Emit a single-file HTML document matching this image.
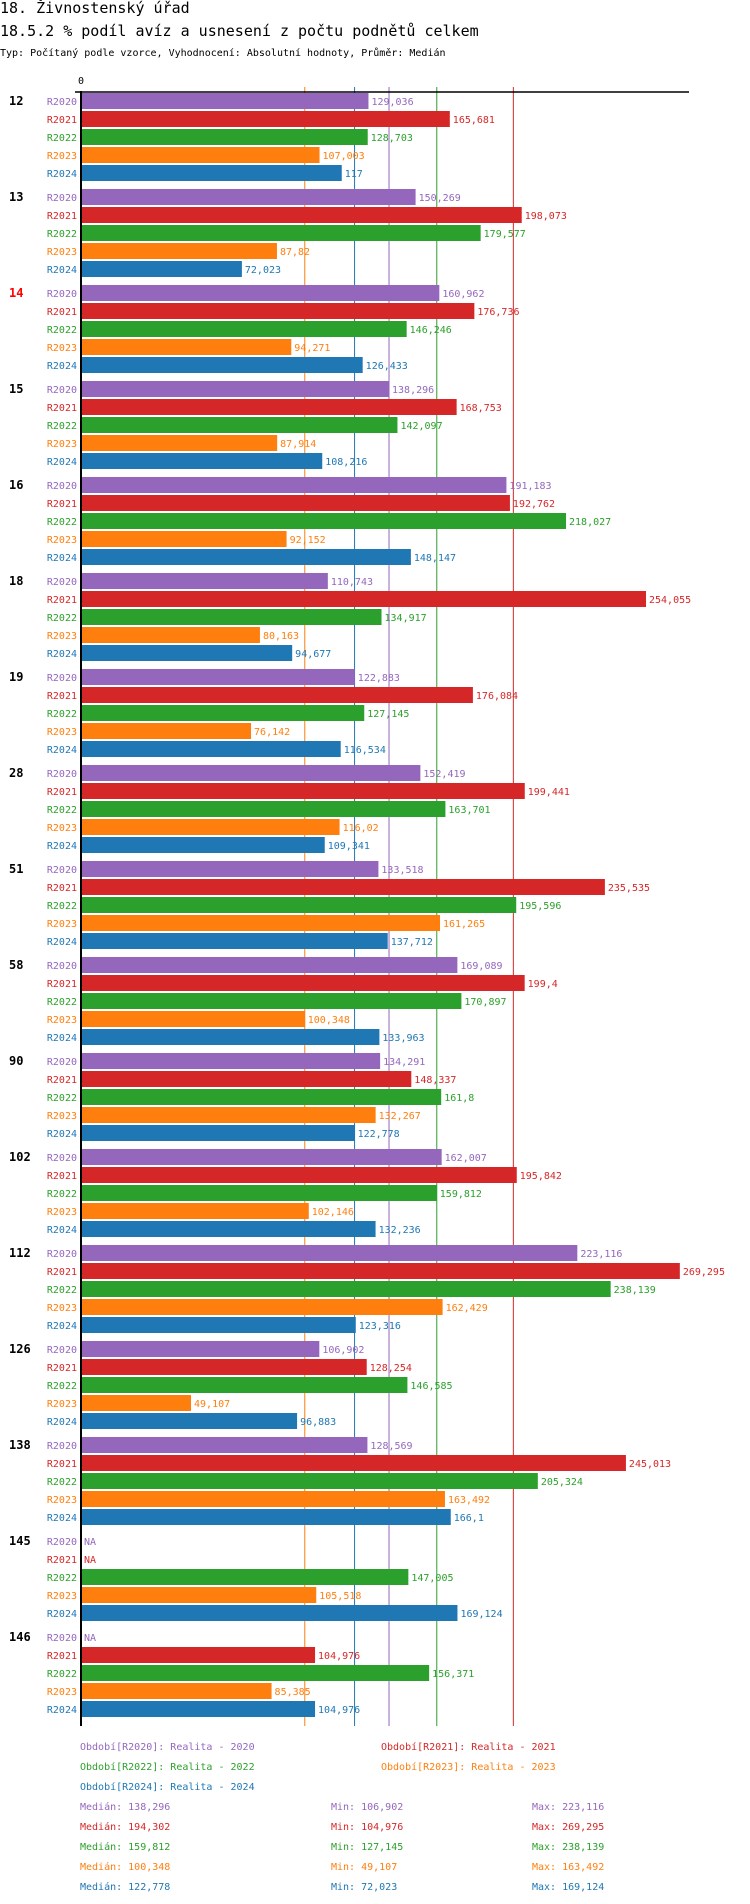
<!DOCTYPE html>
<html><head><meta charset="utf-8">
<style>
html,body{margin:0;padding:0;background:#fff;}
svg{display:block;}
text{font-family:"DejaVu Sans Mono","Liberation Mono",monospace;}
</style></head>
<body>
<svg id="chart" width="750" height="1904" viewBox="0 0 750 1904" xmlns="http://www.w3.org/2000/svg">
<text x="0" y="13" font-size="15" fill="#000">18. Živnostenský úřad</text>
<text x="0" y="36" font-size="15" fill="#000">18.5.2 % podíl avíz a usnesení z počtu podnětů celkem</text>
<text x="0" y="56" font-size="10" fill="#000">Typ: Počítaný podle vzorce, Vyhodnocení: Absolutní hodnoty, Průměr: Medián</text>
<g id="plot"></g>
</svg>
<script>
const groups = ["12","13","14","15","16","18","19","28","51","58","90","102","112","126","138","145","146"];
const seriesNames = ["R2020","R2021","R2022","R2023","R2024"];
const r2020 = [129.036,150.269,160.962,138.296,191.183,110.743,122.883,152.419,133.518,169.089,134.291,162.007,223.116,106.902,128.569,null,null];
const r2021 = [165.681,198.073,176.736,168.753,192.762,254.055,176.084,199.441,235.535,199.4,148.337,195.842,269.295,128.254,245.013,null,104.976];
const r2022 = [128.703,179.577,146.246,142.097,218.027,134.917,127.145,163.701,195.596,170.897,161.8,159.812,238.139,146.585,205.324,147.005,156.371];
const r2023 = [107.003,87.82,94.271,87.914,92.152,80.163,76.142,116.02,161.265,100.348,132.267,102.146,162.429,49.107,163.492,105.518,85.385];
const r2024 = [117,72.023,126.433,108.216,148.147,94.677,116.534,109.341,137.712,133.963,122.778,132.236,123.316,96.883,166.1,169.124,104.976];
const medians = [138.296,194.302,159.812,100.348,122.778];
const mins = [106.902,104.976,127.145,49.107,72.023];
const maxs = [223.116,269.295,238.139,163.492,169.124];
const legendLabels = ["Období[R2020]: Realita - 2020","Období[R2021]: Realita - 2021","Období[R2022]: Realita - 2022","Období[R2023]: Realita - 2023","Období[R2024]: Realita - 2024"];
const highlightGroup = "14";

const colors = ["#9467bd","#d62728","#2ca02c","#ff7f0e","#1f77b4"];
const series = [r2020,r2021,r2022,r2023,r2024];
const X0 = 82, SCALE = 2.22;
const xs = v => X0 + v*SCALE;
const TOP = 93, GP = 96, RP = 18, BH = 16;
const ys = (g,r) => TOP + g*GP + r*RP;
const fmt = v => String(v).replace('.', ',');
const NS = "http://www.w3.org/2000/svg";
const plot = document.getElementById('plot');
function mk(tag, attrs, txt){const e=document.createElementNS(NS,tag);for(const k in attrs)e.setAttribute(k,attrs[k]);if(txt!==undefined)e.textContent=txt;plot.appendChild(e);return e;}

const bottom = ys(groups.length-1,4)+BH+9;
medians.forEach((m,i)=>{
  const l = mk('line',{x1:xs(m),x2:xs(m),y1:87,y2:bottom,stroke:colors[i],'stroke-width':1});
  
  
});
const ax = mk('line',{x1:75,x2:689,y1:92,y2:92,stroke:'#000','stroke-width':1.5});


const ay = mk('line',{x1:81,x2:81,y1:91,y2:bottom,stroke:'#000','stroke-width':2});


const zt = mk('text',{x:81,y:84,'font-size':10,'text-anchor':'middle',fill:'#000'},'0');



groups.forEach((g,gi)=>{
  const gl = mk('text',{x:9,y:ys(gi,0)+12,'font-size':12,'font-weight':'bold',fill:g===highlightGroup?'#ff0000':'#000'},g);
  
  
  series.forEach((s,si)=>{
    const y = ys(gi,si);
    const lab = mk('text',{x:77,y:y+12,'font-size':10,'text-anchor':'end',fill:colors[si]},seriesNames[si]);
    
    
    const v = s[gi];
    if(v===null){
      const na = mk('text',{x:84,y:y+12,'font-size':10,fill:colors[si]},'NA');
      
      
      return;
    }
    const b = mk('rect',{x:X0,y:y,width:xs(v)-X0,height:BH,fill:colors[si]});
    
    
    const vt = mk('text',{x:xs(v)+3,y:y+12,'font-size':10,fill:colors[si]},fmt(v));
    
    
  });
});

const legPos = [[80,1750],[381,1750],[80,1770],[381,1770],[80,1790]];
legendLabels.forEach((t,i)=>{
  const e = mk('text',{x:legPos[i][0],y:legPos[i][1],'font-size':10,fill:colors[i]},t);
  
  
});
medians.forEach((m,i)=>{
  const y = 1810 + i*20;
  const a = mk('text',{x:80,y:y,'font-size':10,fill:colors[i]},'Medián: '+fmt(m));
  
  
  const b = mk('text',{x:331,y:y,'font-size':10,fill:colors[i]},'Min: '+fmt(mins[i]));
  
  
  const c = mk('text',{x:532,y:y,'font-size':10,fill:colors[i]},'Max: '+fmt(maxs[i]));
  
  
});
</script>
</body></html>
